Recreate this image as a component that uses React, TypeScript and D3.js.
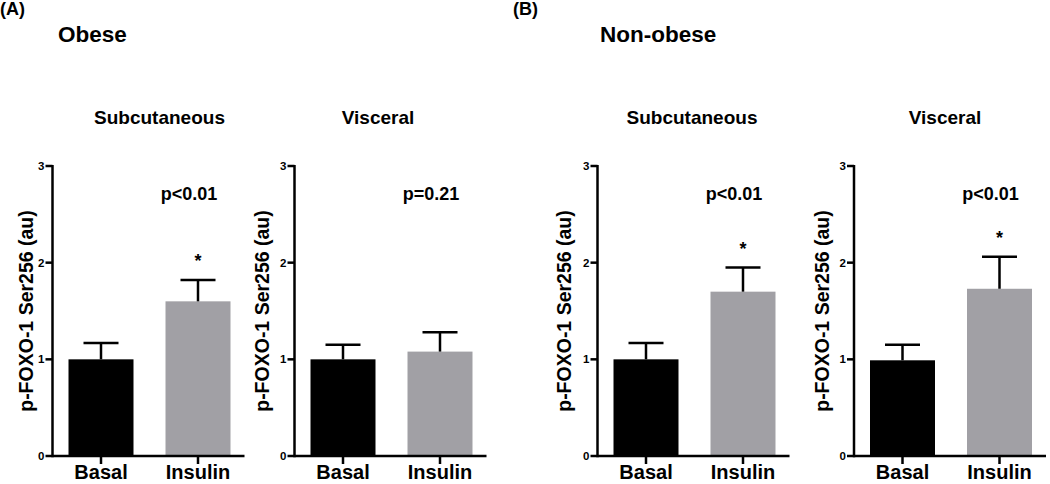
import React from 'react';
import { scaleBand, scaleLinear } from 'd3';

const width = 1050;
const height = 484;

// data
const conditions = ['Basal', 'Insulin'];
const groupLabels = ['(A)', '(B)'];
const groupTitles = ['Obese', 'Non-obese'];
const panelTitles = ['Subcutaneous', 'Visceral', 'Subcutaneous', 'Visceral'];
const meanValues = [
  [1.0, 1.6],
  [1.0, 1.08],
  [1.0, 1.7],
  [0.99, 1.73],
];
const semValues = [
  [0.17, 0.22],
  [0.15, 0.2],
  [0.17, 0.25],
  [0.16, 0.33],
];
const pLabels = ['p<0.01', 'p=0.21', 'p<0.01', 'p<0.01'];
const significant = [true, false, true, true];
const yTicks = [0, 1, 2, 3];
const yLabel = 'p-FOXO-1 Ser256 (au)';

// layout
const axisX = [52.5, 294.5, 597.5, 854];
const titleX = [159.5, 378, 692, 945];
const yLabelOffset = [-20, -25.5, -26.5, -25];
const groupX = [0, 513];
const groupTitleX = [58, 600];
const font = '"Liberation Sans", Arial, sans-serif';
const colors = ['#000000', '#a1a0a5'];

const yScale = scaleLinear().domain([0, 3]).range([456, 166]);

const Panel = ({ i }: { i: number }) => {
  const ax = axisX[i];
  const xScale = scaleBand<string>()
    .domain(conditions)
    .range([ax, ax + 194])
    .paddingInner(0.33)
    .paddingOuter(0.165);
  const bw = xScale.bandwidth();
  const ins = (xScale('Insulin') as number) + bw / 2;
  const insTop = yScale(meanValues[i][1] + semValues[i][1]);
  return (
    <g>
      {conditions.map((c, j) => {
        const x0 = xScale(c) as number;
        const cx = x0 + bw / 2;
        const top = yScale(meanValues[i][j]);
        const errTop = yScale(meanValues[i][j] + semValues[i][j]);
        return (
          <g key={c}>
            <rect x={x0} y={top} width={bw} height={yScale(0) - top} fill={colors[j]} />
            <line x1={cx} x2={cx} y1={top} y2={errTop} stroke="#000" strokeWidth={2.5} />
            <line x1={cx - 17.5} x2={cx + 17.5} y1={errTop} y2={errTop} stroke="#000" strokeWidth={2.5} />
            <line x1={cx} x2={cx} y1={yScale(0)} y2={yScale(0) + 8} stroke="#000" strokeWidth={2.5} />
            <text x={cx} y={479} textAnchor="middle" fontSize={20} fontWeight="bold" fontFamily={font}>{c}</text>
          </g>
        );
      })}
      <line x1={ax} x2={ax + 192} y1={yScale(0)} y2={yScale(0)} stroke="#000" strokeWidth={2.5} />
      <line x1={ax} x2={ax} y1={yScale(3) - 1} y2={yScale(0) + 1.25} stroke="#000" strokeWidth={2.5} />
      {yTicks.map((t) => (
        <g key={t}>
          <line x1={ax - 7} x2={ax} y1={yScale(t)} y2={yScale(t)} stroke="#000" strokeWidth={2.5} />
          <text x={ax - 8} y={yScale(t) + 4} textAnchor="end" fontSize={11.5} fontWeight="bold" fontFamily={font}>{t}</text>
        </g>
      ))}
      <text
        transform={`translate(${ax + yLabelOffset[i]},${(yScale(0) + yScale(3)) / 2}) rotate(-90)`}
        textAnchor="middle"
        fontSize={19.5}
        fontWeight="bold"
        fontFamily={font}
      >
        {yLabel}
      </text>
      <text x={titleX[i]} y={124} textAnchor="middle" fontSize={19} fontWeight="bold" fontFamily={font}>{panelTitles[i]}</text>
      <text x={ins - 9} y={200} textAnchor="middle" fontSize={18} fontWeight="bold" fontFamily={font}>{pLabels[i]}</text>
      {significant[i] && (
        <text x={ins} y={insTop - 13} textAnchor="middle" fontSize={18} fontWeight="bold" fontFamily={font}>*</text>
      )}
    </g>
  );
};

export default function App() {
  return (
    <svg width={width} height={height} style={{ position: 'absolute', left: 0, top: 0, background: '#fff' }}>
      {groupLabels.map((g, k) => (
        <g key={g}>
          <text x={groupX[k]} y={15} fontSize={18} fontWeight="bold" fontFamily={font}>{g}</text>
          <text x={groupTitleX[k]} y={42} fontSize={22.5} fontWeight="bold" fontFamily={font}>{groupTitles[k]}</text>
        </g>
      ))}
      {panelTitles.map((_, i) => (
        <Panel key={i} i={i} />
      ))}
    </svg>
  );
}
